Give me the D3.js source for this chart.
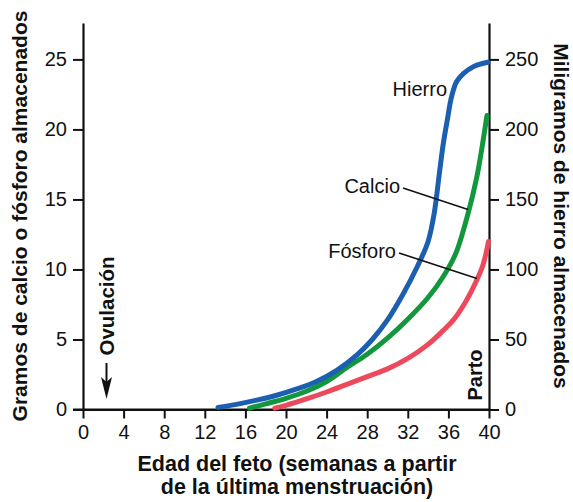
<!DOCTYPE html>
<html>
<head>
<meta charset="utf-8">
<script src="https://cdn.jsdelivr.net/npm/d3@7"></script>
<style>
  html, body { margin: 0; padding: 0; background: #fff; }
  svg { display: block; font-family: "Liberation Sans", Arial, Helvetica, sans-serif; }
</style>
</head>
<body>
<svg id="chart" width="573" height="502"></svg>
<script>
// ---- data ----
const xTicks = [0, 4, 8, 12, 16, 20, 24, 28, 32, 36, 40];
const leftTicks = [0, 5, 10, 15, 20, 25];
const rightTicks = [0, 50, 100, 150, 200, 250];

// Hierro (mg, right axis)
const ironWeeks = [13.3, 15,  17,  19, 21,   23, 25, 27, 28.5, 30, 31.5, 33,  34,  34.6, 35.1, 35.5, 35.9, 36.3, 36.8, 37.5, 38.5, 39.9];
const ironMg    = [1.5,  3.5, 6.5, 10, 14.5, 20, 28, 39, 50,   64, 82,   103, 120, 140,  168,  190,  207,  223,  234,  240,  245,  248];

// Calcio (g, left axis)
const calciumWeeks = [16.4, 18,  20,  22,  24,  26,  28,   30,  32,   34,  35.5, 36.7, 37.9, 38.8, 39.8];
const calciumG     = [0.1,  0.4, 0.8, 1.3, 2.0, 3.0, 3.95, 5.1, 6.45, 8.0, 9.5,  11.1, 13.9, 16.6, 21.0];

// Fósforo (g, left axis)
const phosWeeks = [18.9, 20,  22,   24,   26,  28,   30,  32,   34,   35.5, 36.5, 37.7, 38.7, 39.4, 39.95];
const phosG     = [0.1,  0.3, 0.75, 1.25, 1.8, 2.35, 2.9, 3.65, 4.65, 5.65, 6.4,  7.7,  9.1,  10.3, 12.0];

const seriesNames = ["Hierro", "Calcio", "Fósforo"];

// ---- layout ----
const svg = d3.select("#chart");
const x = d3.scaleLinear().domain([0, 40]).range([83, 489]);
const yL = d3.scaleLinear().domain([0, 27.6]).range([409.5, 23]);
const yR = d3.scaleLinear().domain([0, 276]).range([409.5, 23]);

const tickFont = "20px";

const gx = svg.append("g").attr("transform", `translate(0,${yL(0)})`)
  .call(d3.axisBottom(x).tickValues(xTicks).tickSize(9).tickSizeOuter(0).tickPadding(6));
const gl = svg.append("g").attr("transform", `translate(${x(0)},0)`)
  .call(d3.axisLeft(yL).tickValues(leftTicks).tickSize(10).tickSizeOuter(0).tickPadding(6));
const gr = svg.append("g").attr("transform", `translate(${x(40)},0)`)
  .call(d3.axisRight(yR).tickValues(rightTicks).tickSize(10).tickSizeOuter(0).tickPadding(6));

[gx, gl, gr].forEach(g => {
  g.selectAll("path.domain").attr("stroke", "#111").attr("stroke-width", 2.2);
  g.selectAll(".tick line").attr("stroke", "#111").attr("stroke-width", 2);
  g.selectAll(".tick text").attr("fill", "#111").style("font-size", tickFont)
    .style("font-family", '"Liberation Sans", Arial, sans-serif');
});
svg.append("line").attr("x1", x(0) - 10).attr("x2", x(40)).attr("y1", yL(0)).attr("y2", yL(0))
  .attr("stroke", "#111").attr("stroke-width", 2.2);

// ---- curves ----
const curve = d3.curveCatmullRom.alpha(0.5);
const lineL = d3.line().x(d => x(d[0])).y(d => yL(d[1])).curve(curve);
const lineR = d3.line().x(d => x(d[0])).y(d => yR(d[1])).curve(curve);

const colors = { Hierro: "#1c5fb0", Calcio: "#13973d", "Fósforo": "#ec4a5c" };

svg.append("path").datum(phosWeeks.map((w, i) => [w, phosG[i]]))
  .attr("d", lineL).attr("fill", "none").attr("stroke", colors["Fósforo"])
  .attr("stroke-width", 5).attr("stroke-linecap", "round");
svg.append("path").datum(calciumWeeks.map((w, i) => [w, calciumG[i]]))
  .attr("d", lineL).attr("fill", "none").attr("stroke", colors.Calcio)
  .attr("stroke-width", 5).attr("stroke-linecap", "round");
svg.append("path").datum(ironWeeks.map((w, i) => [w, ironMg[i]]))
  .attr("d", lineR).attr("fill", "none").attr("stroke", colors.Hierro)
  .attr("stroke-width", 5).attr("stroke-linecap", "round");

// ---- series labels ----
svg.append("text").attr("x", 447).attr("y", 96).attr("text-anchor", "end")
  .style("font-size", "20px").attr("fill", "#111").text(seriesNames[0]);
svg.append("text").attr("x", 400).attr("y", 193).attr("text-anchor", "end")
  .style("font-size", "20px").attr("fill", "#111").text(seriesNames[1]);
svg.append("text").attr("x", 396).attr("y", 258).attr("text-anchor", "end")
  .style("font-size", "20px").attr("fill", "#111").text(seriesNames[2]);

svg.append("line").attr("x1", 403).attr("y1", 188).attr("x2", 468).attr("y2", 209.5)
  .attr("stroke", "#111").attr("stroke-width", 1.6);
svg.append("line").attr("x1", 399).attr("y1", 253).attr("x2", 477).attr("y2", 278.5)
  .attr("stroke", "#111").attr("stroke-width", 1.6);

// ---- annotations ----
svg.append("text").attr("transform", "translate(114,306) rotate(-90)")
  .attr("text-anchor", "middle").style("font-size", "20.5px").style("font-weight", "bold")
  .attr("fill", "#111").text("Ovulación");
svg.append("line").attr("x1", 106.5).attr("y1", 363).attr("x2", 106.5).attr("y2", 388)
  .attr("stroke", "#111").attr("stroke-width", 2);
svg.append("path").attr("d", "M101,377 L106.5,399 L112,377 L106.5,382 Z").attr("fill", "#111");

svg.append("text").attr("transform", "translate(482,375) rotate(-90)")
  .attr("text-anchor", "middle").style("font-size", "20px").style("font-weight", "bold")
  .attr("fill", "#111").text("Parto");

// ---- axis titles ----
svg.append("text").attr("transform", "translate(27,216) rotate(-90)")
  .attr("text-anchor", "middle").style("font-size", "21px").style("font-weight", "bold")
  .attr("fill", "#111").text("Gramos de calcio o fósforo almacenados");
svg.append("text").attr("transform", "translate(554,216) rotate(90)")
  .attr("text-anchor", "middle").style("font-size", "21px").style("font-weight", "bold")
  .attr("fill", "#111").text("Miligramos de hierro almacenados");

svg.append("text").attr("x", 297).attr("y", 471).attr("text-anchor", "middle")
  .style("font-size", "21.5px").style("font-weight", "bold").attr("fill", "#111")
  .text("Edad del feto (semanas a partir");
svg.append("text").attr("x", 297).attr("y", 494).attr("text-anchor", "middle")
  .style("font-size", "21.5px").style("font-weight", "bold").attr("fill", "#111")
  .text("de la última menstruación)");
</script>
</body>
</html>
